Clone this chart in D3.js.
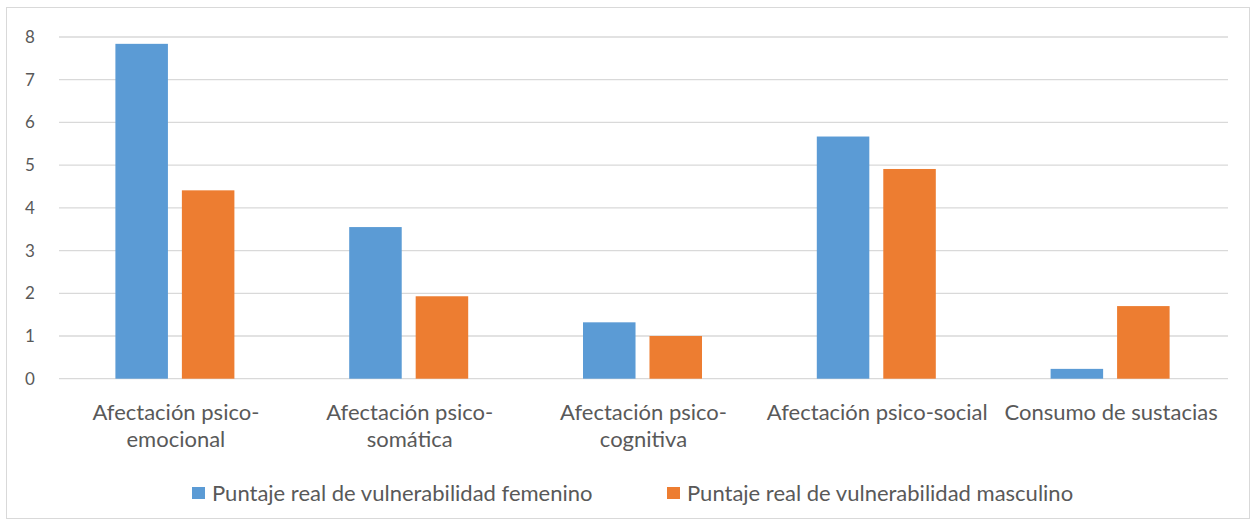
<!DOCTYPE html>
<html>
<head>
<meta charset="utf-8">
<script src="https://cdn.jsdelivr.net/npm/d3@7"></script>
<style>
  body { margin: 0; background: #fff; }
  text { font-family: Lato, "Open Sans", sans-serif; fill: #595959; }
</style>
</head>
<body>
<svg id="chart" width="1253" height="521"></svg>
<script>
// data
var categories = ["Afectación psico-emocional", "Afectación psico-somática",
                  "Afectación psico-cognitiva", "Afectación psico-social", "Consumo de sustacias"];
var seriesNames = ["Puntaje real de vulnerabilidad femenino", "Puntaje real de vulnerabilidad masculino"];
var femenino = [7.84, 3.55, 1.32, 5.67, 0.23];
var masculino = [4.41, 1.93, 1.0, 4.91, 1.70];
var yTicks = [0, 1, 2, 3, 4, 5, 6, 7, 8];
var colors = ["#5b9bd5", "#ed7d31"];

var svg = d3.select("#chart"),
    tickSize = 17,
    labelSize = 22;

// outer chart border
svg.append("rect")
  .attr("x", 6.5).attr("y", 7.5)
  .attr("width", 1243).attr("height", 511)
  .attr("fill", "none")
  .attr("stroke", "#d9d9d9");

var plot = {left: 59, right: 1228, top: 37, bottom: 378.7};

var x = d3.scaleBand()
    .domain(categories)
    .range([plot.left, plot.right]);

// two bars + gap, 119px wide cluster
var x1 = d3.scaleBand()
    .domain([0, 1])
    .range([0, 119])
    .paddingInner(0.21);

var y = d3.scaleLinear()
    .domain([0, 8])
    .range([plot.bottom, plot.top]);

// gridlines
svg.append("g")
  .selectAll("line")
  .data(yTicks)
  .enter().append("line")
  .attr("x1", plot.left).attr("x2", plot.right)
  .attr("y1", d => y(d)).attr("y2", d => y(d))
  .attr("stroke", "#d9d9d9")
  .attr("stroke-width", 1.3);

// y labels
svg.append("g")
  .selectAll("text")
  .data(yTicks)
  .enter().append("text")
  .attr("x", 30)
  .attr("y", d => y(d))
  .attr("dy", "0.35em")
  .attr("text-anchor", "middle")
  .style("font-size", tickSize + "px")
  .text(d => d);

// bars
var rows = categories.map((c, i) => ({cat: c, vals: [femenino[i], masculino[i]]}));
var groups = svg.append("g")
  .selectAll("g")
  .data(rows)
  .enter().append("g")
  .attr("transform", d => "translate(" + (x(d.cat) + x.bandwidth() / 2 - 60.5) + ",0)");

groups.selectAll("rect")
  .data(d => d.vals.map((v, k) => ({k: k, v: v})))
  .enter().append("rect")
  .attr("x", d => x1(d.k))
  .attr("width", x1.bandwidth())
  .attr("y", d => y(d.v))
  .attr("height", d => y(0) - y(d.v))
  .attr("fill", d => colors[d.k]);

// category labels, wrapped after the hyphen when too wide for the band
var catLabels = svg.append("g")
  .selectAll("text")
  .data(categories)
  .enter().append("text")
  .attr("text-anchor", "middle")
  .style("font-size", labelSize + "px")
  .attr("y", 420);

catLabels.each(function(d) {
  var t = d3.select(this),
      cx = x(d) + x.bandwidth() / 2;
  t.text(d);
  var lines = [d];
  if (this.getComputedTextLength() > 228 && d.indexOf("-") > 0) {
    var cut = d.indexOf("-") + 1;
    lines = [d.slice(0, cut), d.slice(cut)];
  }
  t.text(null);
  lines.forEach(function(l, i) {
    t.append("tspan").attr("x", cx).attr("dy", i ? 27 : 0).text(l);
  });
});

// legend
var legendX = [192, 667];
var legend = svg.append("g")
  .selectAll("g")
  .data(seriesNames)
  .enter().append("g")
  .attr("transform", (d, i) => "translate(" + legendX[i] + ",487)");

legend.append("rect")
  .attr("width", 13).attr("height", 12)
  .attr("fill", (d, i) => colors[i]);

legend.append("text")
  .attr("x", 20).attr("y", 14)
  .style("font-size", labelSize + "px")
  .text(d => d);
</script>
</body>
</html>
